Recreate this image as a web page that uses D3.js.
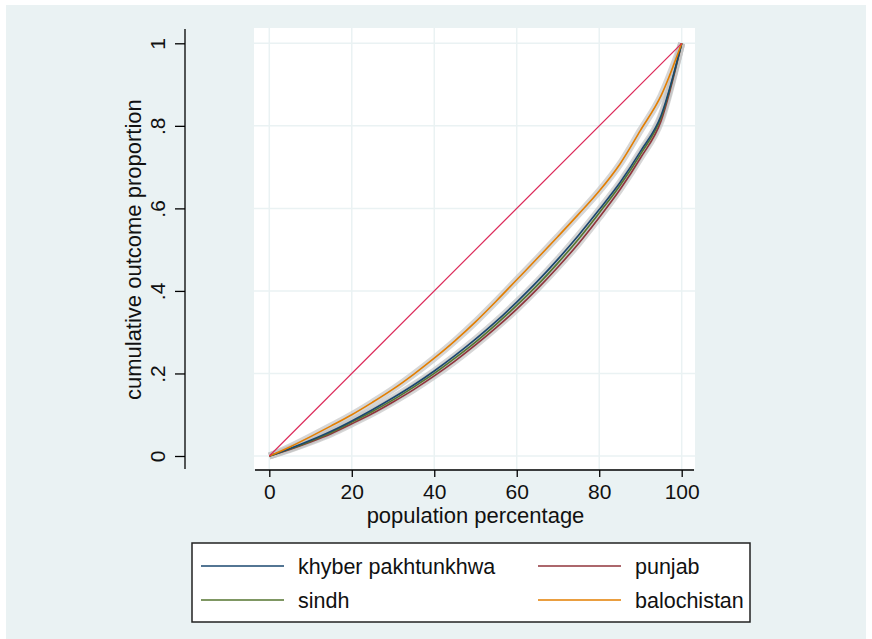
<!DOCTYPE html>
<html><head><meta charset="utf-8">
<script src="https://cdn.jsdelivr.net/npm/d3@7"></script>
<style>
html,body{margin:0;padding:0;background:#fff;}
svg{display:block;font-family:"Liberation Sans",Arial,sans-serif;}
</style></head>
<body>
<svg id="chart" width="872" height="639"></svg>
<script>
// ---- data ----
const popPct = [0,5,10,15,20,25,30,35,40,45,50,55,60,65,70,75,80,85,90,95,100];
const khyber = [0,0.018,0.038,0.060,0.085,0.112,0.141,0.172,0.206,0.243,0.283,0.326,0.373,0.423,0.477,0.535,0.597,0.662,0.738,0.825,1];
const sindh  = [0,0.017,0.036,0.057,0.082,0.108,0.136,0.167,0.200,0.237,0.276,0.319,0.365,0.414,0.468,0.526,0.589,0.655,0.731,0.820,1];
const punjab = [0,0.016,0.034,0.054,0.078,0.103,0.131,0.161,0.194,0.230,0.269,0.311,0.356,0.405,0.458,0.515,0.578,0.645,0.722,0.812,1];
const balochistan = [0,0.022,0.047,0.073,0.100,0.130,0.162,0.198,0.237,0.279,0.325,0.375,0.427,0.479,0.532,0.586,0.642,0.707,0.789,0.873,1];
const equality = [0,100];
const xTicks = [0,20,40,60,80,100];
const yTicks = [0,0.2,0.4,0.6,0.8,1];
const yTickLabels = ["0",".2",".4",".6",".8","1"];
const seriesNames = ["khyber pakhtunkhwa","punjab","sindh","balochistan"];
const seriesColors = {"khyber pakhtunkhwa":"#1a476f","punjab":"#90353b","sindh":"#55752f","balochistan":"#e37e00"};
const seriesData = {"khyber pakhtunkhwa":khyber,"punjab":punjab,"sindh":sindh,"balochistan":balochistan};
const xTitle = "population percentage";
const yTitle = "cumulative outcome proportion";

// ---- layout ----
const W = 872, H = 639;
const plot = {left:254, top:28, right:695, bottom:469};
const svg = d3.select("#chart");

svg.append("rect").attr("x",6).attr("y",5).attr("width",W-12).attr("height",H-5).attr("fill","#eaf2f3");
svg.append("rect").attr("x",plot.left).attr("y",plot.top)
  .attr("width",plot.right-plot.left).attr("height",plot.bottom-plot.top).attr("fill","#ffffff");

const x = d3.scaleLinear().domain([0,100]).range([269.3,681.7]);
const y = d3.scaleLinear().domain([0,1]).range([456,43.3]);

// grid
const grid = svg.append("g");
grid.selectAll("line.v").data(xTicks).join("line")
  .attr("x1",d=>x(d)).attr("x2",d=>x(d)).attr("y1",plot.top).attr("y2",plot.bottom)
  .attr("stroke","#eaf2f3").attr("stroke-width",1.5);
grid.selectAll("line.h").data(yTicks).join("line")
  .attr("y1",d=>y(d)).attr("y2",d=>y(d)).attr("x1",plot.left).attr("x2",plot.right)
  .attr("stroke","#eaf2f3").attr("stroke-width",1.5);

// axes
const xAxis = svg.append("g").attr("transform",`translate(0,${plot.bottom+1})`)
  .call(d3.axisBottom(x).tickValues(xTicks).tickSize(7).tickPadding(7).tickFormat(d3.format("d")));
xAxis.select(".domain").remove();
xAxis.append("line").attr("x1",plot.left+1).attr("x2",plot.right-1).attr("y1",0).attr("y2",0)
  .attr("stroke","#000").attr("stroke-width",1.3);
xAxis.selectAll(".tick line").attr("stroke","#000").attr("stroke-width",1.3);
xAxis.selectAll(".tick text").attr("font-size",21).attr("fill","#111").attr("font-family","Liberation Sans, Arial, sans-serif");

const yAxis = svg.append("g").attr("transform",`translate(185,0)`)
  .call(d3.axisLeft(y).tickValues(yTicks).tickSize(10).tickFormat((d,i)=>yTickLabels[i]));
yAxis.select(".domain").remove();
yAxis.append("line").attr("x1",0).attr("x2",0).attr("y1",plot.top+1).attr("y2",plot.bottom)
  .attr("stroke","#000").attr("stroke-width",1.3);
yAxis.selectAll(".tick line").attr("stroke","#000").attr("stroke-width",1.3);
yAxis.selectAll(".tick text")
  .attr("font-size",21).attr("fill","#111").attr("font-family","Liberation Sans, Arial, sans-serif")
  .attr("x",null).attr("dy",null)
  .attr("text-anchor","middle")
  .attr("transform","translate(-20,0) rotate(-90)");

// titles
svg.append("text").attr("x",(x(0)+x(100))/2).attr("y",523).attr("text-anchor","middle")
  .attr("font-size",22).attr("fill","#111").text(xTitle);
svg.append("text").attr("transform",`translate(141,${(y(0)+y(1))/2}) rotate(-90)`)
  .attr("text-anchor","middle").attr("font-size",22).attr("fill","#111").text(yTitle);

// curves
const line = d3.line().x(d=>x(d[0])).y(d=>y(d[1])).curve(d3.curveMonotoneX);
const drawOrder = ["punjab","sindh","khyber pakhtunkhwa","balochistan"];
const curves = svg.append("g");
drawOrder.forEach(name=>{
  const pts = popPct.map((p,i)=>[p,seriesData[name][i]]);
  curves.append("path").attr("d",line(pts)).attr("fill","none")
    .attr("stroke","#c4c4c4").attr("stroke-width",7).attr("stroke-opacity",0.7).attr("stroke-linejoin","round");
});
drawOrder.forEach(name=>{
  const pts = popPct.map((p,i)=>[p,seriesData[name][i]]);
  curves.append("path").attr("d",line(pts)).attr("fill","none")
    .attr("stroke",seriesColors[name]).attr("stroke-width",1.6).attr("stroke-linejoin","round");
});
// equality line
curves.append("path").attr("d",d3.line().x(d=>x(d)).y(d=>y(d/100))(equality))
  .attr("fill","none").attr("stroke","#dc2a5a").attr("stroke-width",1.2);

// legend
const lg = svg.append("g");
lg.append("rect").attr("x",192).attr("y",543).attr("width",558).attr("height",79)
  .attr("fill","#fff").attr("stroke","#222").attr("stroke-width",1.5);
const legPos = [[201,566],[538,566],[201,600],[538,600]];
seriesNames.forEach((name,i)=>{
  const [lx,ly] = legPos[i];
  lg.append("line").attr("x1",lx).attr("x2",lx+83).attr("y1",ly).attr("y2",ly)
    .attr("stroke",seriesColors[name]).attr("stroke-width",1.6);
  lg.append("text").attr("x",lx+97).attr("y",ly+7.5).attr("font-size",21.5).attr("fill","#111").text(name);
});
</script>
</body></html>
